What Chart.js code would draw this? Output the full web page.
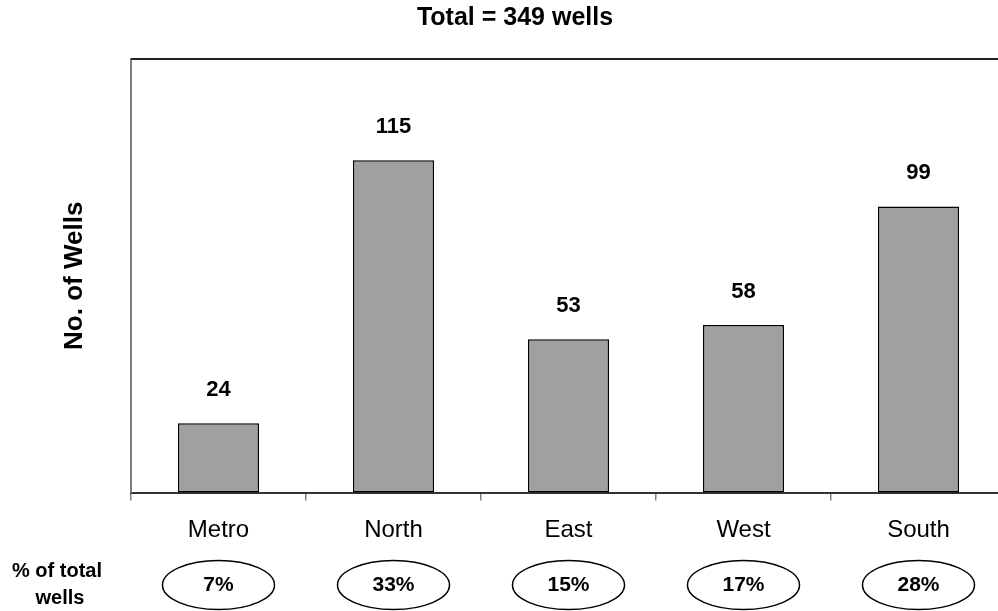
<!DOCTYPE html>
<html>
<head>
<meta charset="utf-8">
<title>Wells by region</title>
<script src="https://cdn.jsdelivr.net/npm/chart.js@4.4.1/dist/chart.umd.min.js"></script>
<style>
  html, body { margin: 0; padding: 0; background: #fff; overflow: hidden; }
  #wrap { width: 1030px; height: 611px; }
</style>
</head>
<body>
<div id="wrap"><canvas id="chart" width="1030" height="611"></canvas></div>
<script>
// Regions and well counts
const regions = ['Metro', 'North', 'East', 'West', 'South'];
const wellCounts = [24, 115, 53, 58, 99];
const shareLabels = ['7%', '33%', '15%', '17%', '28%'];
const titleText = 'Total = 349 wells';
const yTitle = 'No. of Wells';
const shareCaption = ['% of total', 'wells'];
const yMin = 0;
const yMax = 150;

const FONT = '"Liberation Sans", Arial, Helvetica, sans-serif';

// Value labels above each bar, ellipse badges with the share of total below the axis
const annotations = {
  id: 'annotations',
  afterDatasetsDraw(chart) {
    const ctx = chart.ctx;
    const meta = chart.getDatasetMeta(0);
    ctx.save();
    ctx.fillStyle = '#000';
    ctx.font = 'bold 22px ' + FONT;
    ctx.textAlign = 'center';
    ctx.textBaseline = 'alphabetic';
    meta.data.forEach((bar, i) => {
      ctx.fillText(String(wellCounts[i]), bar.x, bar.y - 27);
    });
    ctx.restore();
  },
  afterDraw(chart) {
    const ctx = chart.ctx;
    const area = chart.chartArea;
    const x = chart.scales.x;
    ctx.save();
    // top frame line
    ctx.strokeStyle = '#222';
    ctx.lineWidth = 2;
    ctx.beginPath();
    ctx.moveTo(area.left, area.top);
    ctx.lineTo(chart.width, area.top);
    ctx.stroke();

    // share badges
    ctx.lineWidth = 1.5;
    ctx.strokeStyle = '#000';
    ctx.fillStyle = '#000';
    ctx.textAlign = 'center';
    ctx.textBaseline = 'middle';
    ctx.font = 'bold 21px ' + FONT;
    shareLabels.forEach((lbl, i) => {
      const cx = x.getPixelForValue(i);
      ctx.beginPath();
      ctx.ellipse(cx, 585, 56, 24.5, 0, 0, Math.PI * 2);
      ctx.stroke();
      ctx.fillText(lbl, cx, 585);
    });

    // caption on the left
    ctx.font = 'bold 20px ' + FONT;
    ctx.textBaseline = 'alphabetic';
    ctx.fillText(shareCaption[0], 57, 577);
    ctx.fillText(shareCaption[1], 60, 604);
    ctx.restore();
  }
};

new Chart(document.getElementById('chart'), {
  type: 'bar',
  data: {
    labels: regions,
    datasets: [{
      data: wellCounts,
      backgroundColor: '#a0a0a0',
      borderColor: '#000',
      borderWidth: 1.5,
      borderSkipped: false,
      barPercentage: 0.463,
      categoryPercentage: 1
    }]
  },
  options: {
    responsive: false,
    animation: false,
    layout: { padding: { left: 24, right: 24, top: 0, bottom: 0 } },
    plugins: {
      legend: { display: false },
      tooltip: { enabled: false },
      title: {
        display: true,
        text: titleText,
        color: '#000',
        font: { family: FONT, size: 25, weight: 'bold' },
        padding: { top: 3, bottom: 26 }
      }
    },
    scales: {
      x: {
        afterFit(scale) { scale.height = 118.5; },
        grid: {
          display: true,
          offset: true,
          drawOnChartArea: false,
          drawTicks: true,
          tickLength: 8,
          color: '#808080',
          lineWidth: 1.5
        },
        border: { display: true, color: '#333', width: 2 },
        ticks: {
          color: '#000',
          padding: 15,
          font: { family: FONT, size: 24 }
        }
      },
      y: {
        min: yMin,
        max: yMax,
        afterFit(scale) { scale.width = 107; },
        grid: { display: false, drawTicks: false },
        border: { display: true, color: '#808080', width: 2 },
        ticks: { display: false },
        title: {
          display: true,
          text: yTitle,
          color: '#000',
          font: { family: FONT, size: 26, weight: 'bold' },
          padding: { top: 35.4, bottom: 0 }
        }
      }
    }
  },
  plugins: [annotations]
});
</script>
</body>
</html>
